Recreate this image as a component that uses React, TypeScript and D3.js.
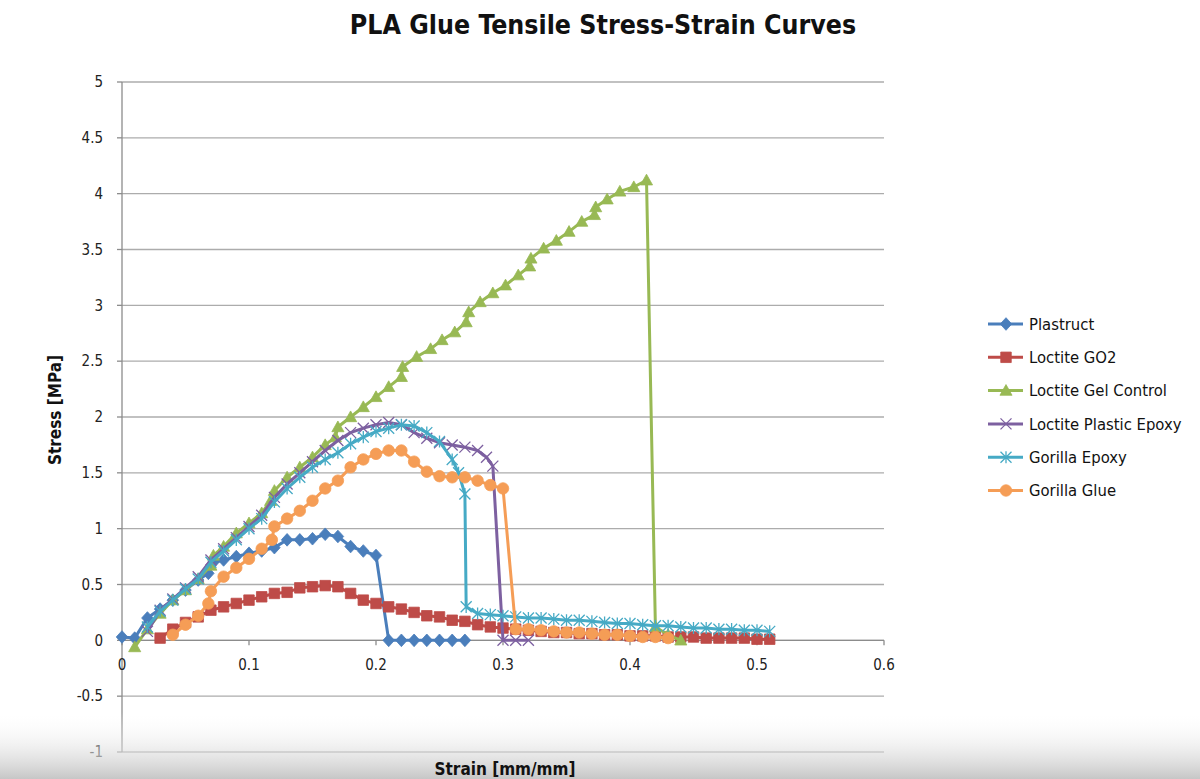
import { useEffect } from "react";
import * as d3 from "d3";

// Tensile test series: [strain mm/mm, stress MPa]
const plastruct: [number, number][] = [
  [0, 0.03], [0.01, 0.02], [0.02, 0.2], [0.03, 0.28], [0.04, 0.36], [0.05, 0.45],
  [0.06, 0.54], [0.068, 0.6], [0.072, 0.7], [0.08, 0.72], [0.09, 0.75], [0.1, 0.78],
  [0.11, 0.8], [0.12, 0.83], [0.13, 0.9], [0.14, 0.9], [0.15, 0.91], [0.16, 0.95],
  [0.17, 0.93], [0.18, 0.84], [0.19, 0.8], [0.2, 0.76], [0.21, 0], [0.22, 0],
  [0.23, 0], [0.24, 0], [0.25, 0], [0.26, 0], [0.27, 0],
];

const loctiteGO2: [number, number][] = [
  [0.03, 0.02], [0.04, 0.1], [0.05, 0.16], [0.06, 0.21], [0.07, 0.27], [0.08, 0.3],
  [0.09, 0.33], [0.1, 0.36], [0.11, 0.39], [0.12, 0.42], [0.13, 0.43], [0.14, 0.47],
  [0.15, 0.48], [0.16, 0.49], [0.17, 0.48], [0.18, 0.42], [0.19, 0.36], [0.2, 0.33],
  [0.21, 0.3], [0.22, 0.28], [0.23, 0.25], [0.24, 0.22], [0.25, 0.21], [0.26, 0.18],
  [0.27, 0.17], [0.28, 0.14], [0.29, 0.12], [0.3, 0.11], [0.31, 0.1], [0.32, 0.09],
  [0.33, 0.08], [0.34, 0.07], [0.35, 0.07], [0.36, 0.06], [0.37, 0.06], [0.38, 0.05],
  [0.39, 0.05], [0.4, 0.04], [0.41, 0.04], [0.42, 0.04], [0.43, 0.03], [0.44, 0.03],
  [0.45, 0.03], [0.46, 0.02], [0.47, 0.02], [0.48, 0.02], [0.49, 0.02], [0.5, 0.01],
  [0.51, 0.01],
];

const loctiteGelControl: [number, number][] = [
  [0.01, -0.06], [0.02, 0.1], [0.03, 0.24], [0.04, 0.36], [0.05, 0.45], [0.06, 0.55],
  [0.07, 0.67], [0.072, 0.76], [0.08, 0.84], [0.09, 0.96], [0.1, 1.05], [0.11, 1.14],
  [0.117, 1.25], [0.12, 1.34], [0.13, 1.46], [0.14, 1.55], [0.15, 1.64], [0.16, 1.75],
  [0.168, 1.82], [0.17, 1.91], [0.18, 2.0], [0.19, 2.09], [0.2, 2.18], [0.21, 2.27],
  [0.22, 2.36], [0.221, 2.45], [0.232, 2.54], [0.243, 2.61], [0.252, 2.69], [0.262, 2.76],
  [0.271, 2.85], [0.273, 2.94], [0.282, 3.03], [0.292, 3.11], [0.302, 3.18], [0.312, 3.27],
  [0.321, 3.35], [0.322, 3.42], [0.332, 3.51], [0.342, 3.58], [0.352, 3.66], [0.362, 3.75],
  [0.372, 3.81], [0.373, 3.88], [0.382, 3.95], [0.392, 4.02], [0.403, 4.06], [0.413, 4.12],
  [0.42, 0.12], [0.43, 0.05], [0.44, 0],
];

const loctitePlasticEpoxy: [number, number][] = [
  [0.02, 0.08], [0.03, 0.27], [0.04, 0.37], [0.05, 0.47], [0.06, 0.57], [0.07, 0.72],
  [0.08, 0.82], [0.09, 0.92], [0.1, 1.02], [0.11, 1.12], [0.12, 1.28], [0.13, 1.4],
  [0.14, 1.5], [0.15, 1.6], [0.16, 1.7], [0.17, 1.79], [0.18, 1.86], [0.19, 1.9],
  [0.2, 1.93], [0.21, 1.95], [0.22, 1.93], [0.23, 1.86], [0.24, 1.81], [0.25, 1.77],
  [0.26, 1.75], [0.27, 1.73], [0.28, 1.7], [0.287, 1.64], [0.292, 1.56], [0.3, 0],
  [0.31, 0], [0.32, 0],
];

const gorillaEpoxy: [number, number][] = [
  [0.02, 0.12], [0.03, 0.26], [0.04, 0.36], [0.05, 0.46], [0.06, 0.55], [0.07, 0.7],
  [0.08, 0.8], [0.09, 0.9], [0.1, 1.0], [0.11, 1.09], [0.12, 1.24], [0.13, 1.36],
  [0.14, 1.46], [0.15, 1.55], [0.16, 1.62], [0.17, 1.68], [0.18, 1.76], [0.19, 1.82],
  [0.2, 1.87], [0.21, 1.9], [0.22, 1.93], [0.23, 1.92], [0.24, 1.86], [0.25, 1.78],
  [0.26, 1.62], [0.265, 1.5], [0.27, 1.31], [0.271, 0.3], [0.28, 0.24], [0.29, 0.23],
  [0.3, 0.22], [0.31, 0.21], [0.32, 0.2], [0.33, 0.2], [0.34, 0.19], [0.35, 0.18],
  [0.36, 0.18], [0.37, 0.17], [0.38, 0.16], [0.39, 0.15], [0.4, 0.15], [0.41, 0.14],
  [0.42, 0.13], [0.43, 0.13], [0.44, 0.12], [0.45, 0.11], [0.46, 0.11], [0.47, 0.1],
  [0.48, 0.1], [0.49, 0.09], [0.5, 0.09], [0.51, 0.08],
];

const gorillaGlue: [number, number][] = [
  [0.04, 0.05], [0.05, 0.14], [0.06, 0.22], [0.068, 0.33], [0.07, 0.44], [0.08, 0.57],
  [0.09, 0.65], [0.1, 0.73], [0.11, 0.82], [0.118, 0.9], [0.12, 1.02], [0.13, 1.09],
  [0.14, 1.16], [0.15, 1.25], [0.16, 1.36], [0.17, 1.43], [0.18, 1.55], [0.19, 1.62],
  [0.2, 1.67], [0.21, 1.7], [0.22, 1.7], [0.23, 1.6], [0.24, 1.51], [0.25, 1.47],
  [0.26, 1.46], [0.27, 1.46], [0.28, 1.43], [0.29, 1.39], [0.3, 1.36], [0.31, 0.1],
  [0.32, 0.1], [0.33, 0.09], [0.34, 0.08], [0.35, 0.07], [0.36, 0.07], [0.37, 0.06],
  [0.38, 0.05], [0.39, 0.05], [0.4, 0.04], [0.41, 0.03], [0.42, 0.03], [0.43, 0.02],
];

const seriesNames = [
  "Plastruct",
  "Loctite GO2",
  "Loctite Gel Control",
  "Loctite Plastic Epoxy",
  "Gorilla Epoxy",
  "Gorilla Glue",
];
const seriesData = [plastruct, loctiteGO2, loctiteGelControl, loctitePlasticEpoxy, gorillaEpoxy, gorillaGlue];
const seriesColors = ["#4a7ebb", "#be4b48", "#98b954", "#7d60a0", "#46aac5", "#f59d56"];
const seriesMarkers = ["diamond", "square", "triangle", "x", "star", "circle"] as const;

const xTicks = [0, 0.1, 0.2, 0.3, 0.4, 0.5, 0.6];
const yTicks = [-1, -0.5, 0, 0.5, 1, 1.5, 2, 2.5, 3, 3.5, 4, 4.5, 5];

const W = 1200;
const H = 779;
const P = { left: 122, right: 884, top: 82, bottom: 752 };
const FONT = "'DejaVu Sans Condensed', 'Liberation Sans Narrow', sans-serif";

type Marker = (typeof seriesMarkers)[number];

function markerPath(kind: Marker, s: number) {
  const h = s / 2;
  switch (kind) {
    case "diamond":
      return `M0,${-h * 1.15}L${h * 1.05},0L0,${h * 1.15}L${-h * 1.05},0Z`;
    case "square":
      return `M${-h},${-h}H${h}V${h}H${-h}Z`;
    case "triangle":
      return `M0,${-h * 1.1}L${h * 1.1},${h * 0.85}L${-h * 1.1},${h * 0.85}Z`;
    case "x":
      return `M${-h},${-h}L${h},${h}M${-h},${h}L${h},${-h}`;
    case "star":
      return `M${-h},${-h}L${h},${h}M${-h},${h}L${h},${-h}M0,${-h * 1.1}V${h * 1.1}`;
    case "circle":
      return d3.symbol().type(d3.symbolCircle).size(Math.PI * h * h)() as string;
  }
}

function MarkerShape({ kind, color, x, y }: { kind: Marker; color: string; x: number; y: number }) {
  const stroked = kind === "x" || kind === "star";
  const size = kind === "circle" ? 11.5 : kind === "square" ? 10.5 : 11;
  return (
    <path
      transform={`translate(${x},${y})`}
      d={markerPath(kind, size)}
      fill={stroked ? "none" : color}
      stroke={color}
      strokeWidth={stroked ? 1.3 : 0.8}
    />
  );
}

export default function App() {
  useEffect(() => {
    document.body.style.margin = "0";
  }, []);

  const x = d3.scaleLinear().domain([0, 0.6]).range([P.left, P.right]);
  const y = d3.scaleLinear().domain([-1, 5]).range([P.bottom, P.top]);
  const line = d3
    .line<[number, number]>()
    .x((d) => x(d[0]))
    .y((d) => y(d[1]));
  const fmt = (v: number) => String(v);

  return (
    <svg width={W} height={H} viewBox={`0 0 ${W} ${H}`} style={{ display: "block", background: "#fff" }}>
      <defs>
        <linearGradient id="shade" x1="0" y1="0" x2="0" y2="1">
          <stop offset="0" stopColor="#ffffff" stopOpacity={0} />
          <stop offset="1" stopColor="#c6c6c6" stopOpacity={1} />
        </linearGradient>
      </defs>

      <text x={603} y={34} textAnchor="middle" fontFamily={FONT} fontWeight="bold" fontSize={26.5} fill="#111">
        PLA Glue Tensile Stress-Strain Curves
      </text>

      {/* horizontal gridlines */}
      {yTicks.map((t) => (
        <line key={`g${t}`} x1={P.left} x2={P.right} y1={y(t)} y2={y(t)} stroke="#acacac" strokeWidth={1.3} />
      ))}
      {/* y axis */}
      <line x1={P.left} x2={P.left} y1={P.top} y2={P.bottom} stroke="#8c8c8c" strokeWidth={1.3} />
      {yTicks.map((t) => (
        <g key={`yt${t}`}>
          <line x1={P.left - 5} x2={P.left} y1={y(t)} y2={y(t)} stroke="#8c8c8c" strokeWidth={1.3} />
          <text x={P.left - 19} y={y(t)} dy="0.35em" textAnchor="end" fontFamily={FONT} fontSize={15} fill="#222">
            {fmt(t)}
          </text>
        </g>
      ))}
      {/* x axis sits at stress = 0 */}
      <line x1={P.left} x2={P.right} y1={y(0)} y2={y(0)} stroke="#8c8c8c" strokeWidth={1.3} />
      {xTicks.map((t) => (
        <g key={`xt${t}`}>
          <line x1={x(t)} x2={x(t)} y1={y(0)} y2={y(0) + 5} stroke="#8c8c8c" strokeWidth={1.3} />
          <text x={x(t)} y={y(0) + 30} textAnchor="middle" fontFamily={FONT} fontSize={15} fill="#222">
            {fmt(t)}
          </text>
        </g>
      ))}

      {/* series */}
      {seriesData.map((data, i) => (
        <g key={seriesNames[i]}>
          <path d={line(data) ?? ""} fill="none" stroke={seriesColors[i]} strokeWidth={3} strokeLinejoin="round" />
          {data.map((d, j) => (
            <MarkerShape key={j} kind={seriesMarkers[i]} color={seriesColors[i]} x={x(d[0])} y={y(d[1])} />
          ))}
        </g>
      ))}

      {/* legend */}
      {seriesNames.map((name, i) => {
        const ly = 324 + i * 33.3;
        return (
          <g key={`lg${name}`}>
            <line x1={988} x2={1023} y1={ly} y2={ly} stroke={seriesColors[i]} strokeWidth={3} />
            <MarkerShape kind={seriesMarkers[i]} color={seriesColors[i]} x={1006} y={ly} />
            <text x={1029} y={ly} dy="0.35em" fontFamily={FONT} fontSize={16.5} fill="#111">
              {name}
            </text>
          </g>
        );
      })}

      {/* shaded band at the bottom of the frame */}
      <rect x={0} y={712} width={W} height={H - 712} fill="url(#shade)" />

      <text
        transform={`translate(61,${(P.top + P.bottom) / 2 - 7}) rotate(-90)`}
        textAnchor="middle"
        fontFamily={FONT}
        fontWeight="bold"
        fontSize={17}
        fill="#111"
      >
        Stress [MPa]
      </text>
      <text x={505} y={775} textAnchor="middle" fontFamily={FONT} fontWeight="bold" fontSize={17} fill="#111">
        Strain [mm/mm]
      </text>
    </svg>
  );
}
